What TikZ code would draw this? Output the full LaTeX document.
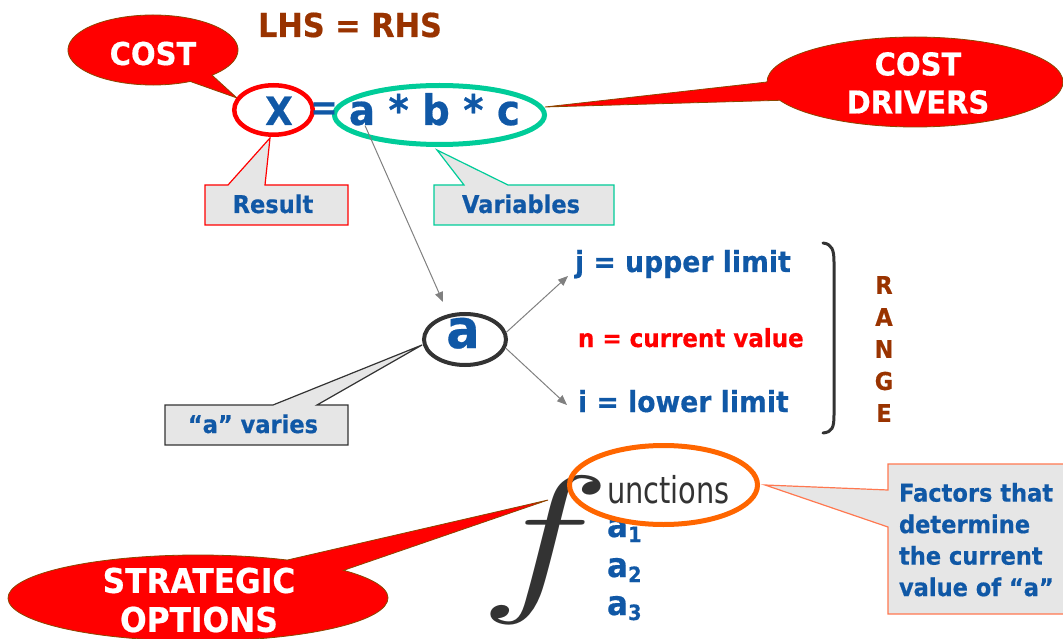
\RequirePackage{fix-cm}
\documentclass[tikz,border=0pt]{standalone}
\usepackage{fontspec}
\usetikzlibrary{shapes.geometric,arrows.meta}
\newfontfamily\tb{DejaVu Sans}[FakeStretch=0.92,FakeBold=0.5]
\newfontfamily\uf{DejaVu Sans}[FakeStretch=0.78]
\newcommand\fsz[2]{\fontsize{#1}{#2}\selectfont}
\definecolor{cBlue}{RGB}{16,88,166}
\definecolor{cBrown}{RGB}{153,51,0}
\definecolor{cRed}{RGB}{255,0,0}
\definecolor{cTeal}{RGB}{0,204,153}
\definecolor{cOrange}{RGB}{255,102,0}
\definecolor{cDGray}{RGB}{51,51,51}
\definecolor{cCoral}{RGB}{255,120,80}
\definecolor{cLGray}{RGB}{230,230,230}
\definecolor{cArrow}{RGB}{128,128,128}
\definecolor{cEdge}{RGB}{140,70,0}
\begin{document}
\begin{tikzpicture}[x=1pt,y=-1pt,
  t/.style={inner sep=0pt,outer sep=0pt},
  bb/.style={t,text=cBlue},
  redcall/.style={fill=cRed,draw=cEdge,line width=0.8pt},
  boxcall/.style={fill=cLGray,line width=1.2pt},
  ring/.style={ellipse,draw,inner sep=0pt,line width=#1},
  garrow/.style={draw=cArrow,line width=1pt,-{Triangle[length=10pt,width=8pt]}},
  brk/.style={draw=cDGray,line width=3pt,line cap=round},
  wtxt/.style={t,text=white,align=center}
]
\useasboundingbox (0,0) rectangle (1063,639);

% red ellipse callouts
\path[redcall] (153,50) ++(64:85 and 35) arc[start angle=64, end angle=406, x radius=85, y radius=35] -- (237,98) -- cycle;
\path[redcall] (915,82) ++(180:148 and 45) arc[start angle=180, end angle=516, x radius=148, y radius=45] -- (545,107) -- cycle;
\path[redcall] (198,598) ++(-40:190 and 43) arc[start angle=-40, end angle=298, x radius=190, y radius=43] -- (548,500) -- cycle;

% rectangular callouts
\path[boxcall,draw=cRed] (205,185) -- (228,185) -- (270,138) -- (265,185) -- (348,185) -- (348,225) -- (205,225) -- cycle;
\path[boxcall,draw=cTeal] (434,185) -- (464,185) -- (437,150) -- (508,185) -- (614,185) -- (614,225) -- (434,225) -- cycle;
\path[boxcall,draw=cDGray] (165,405) -- (273,405) -- (422,345) -- (317,405) -- (348,405) -- (348,445) -- (165,445) -- cycle;
\path[boxcall,draw=cCoral] (888,464) -- (1064,464) -- (1064,614) -- (888,614) -- (888,527) -- (765,485) -- (888,490) -- cycle;

% function f and a_i
\node[t,text=cDGray,font=\fsz{165}{180},anchor=base] (fn) at (545,591) {\scalebox{1.35}[1]{$f$}};
\node[bb,font=\tb\bfseries\fsz{34}{40},anchor=base west] (a1) at (607,537) {a\raisebox{-5pt}{\fsz{21}{24}1}};
\node[bb,font=\tb\bfseries\fsz{34}{40},anchor=base west] (a2) at (607,577) {a\raisebox{-5pt}{\fsz{21}{24}2}};
\node[bb,font=\tb\bfseries\fsz{34}{40},anchor=base west] (a3) at (607,615) {a\raisebox{-5pt}{\fsz{21}{24}3}};
\node[t,text=cDGray,font=\uf\fsz{37}{44},anchor=base west] (unc) at (607,503) {unctions};

% rings
\node[ring=4.5pt,draw=cRed,minimum width=78.5pt,minimum height=49.5pt] (xell) at (273.5,110) {};
\node[ring=5pt,draw=cTeal,minimum width=210pt,minimum height=59pt] (gell) at (439.5,115) {};
\node[ring=4pt,draw=cDGray,minimum width=82pt,minimum height=51pt] (aell) at (465,339.5) {};
\node[ring=5pt,draw=cOrange,minimum width=188pt,minimum height=79pt] (oell) at (663.5,485) {};

% texts
\node[t,text=cBrown,font=\tb\bfseries\fsz{33}{40},anchor=base] (lhs) at (350,37) {LHS = RHS};
\node[wtxt,font=\tb\bfseries\fsz{31.5}{38},anchor=base] (cost) at (153,65) {COST};
\node[wtxt,font=\tb\bfseries\fsz{31.5}{38}] (drivers) at (918,83) {COST\\DRIVERS};
\node[wtxt,font=\tb\bfseries\fsz{34}{39}] (strat) at (199,600) {STRATEGIC\\OPTIONS};

\node[bb,font=\tb\bfseries\fsz{39}{46},anchor=base] (X) at (279,125) {X};
\node[bb,font=\tb\bfseries\fsz{36}{44}] (eq) at (324,111) {=};
\node[bb,font=\tb\bfseries\fsz{42}{48},anchor=base west] (ea) at (349,125) {a};
\node[bb,font=\tb\bfseries\fsz{42}{48},anchor=base west] (ebc) at (ea.base east) {\ * b * c};

\node[bb,font=\tb\bfseries\fsz{24.5}{30},anchor=base] (res) at (273,213) {Result};
\node[bb,font=\tb\bfseries\fsz{24.5}{30},anchor=base] (var) at (521,213) {Variables};
\node[bb,font=\tb\bfseries\fsz{24.5}{30},anchor=base] (vary) at (253,433) {“a” varies};

\node[bb,font=\tb\bfseries\fsz{54}{60},anchor=base] (abig) at (463,348) {a};
\node[bb,font=\tb\bfseries\fsz{29}{34},anchor=base west] (jt) at (575,272) {j = upper limit};
\node[t,text=cRed,font=\tb\bfseries\fsz{25}{30},anchor=base west] (nt) at (578,347) {n = current value};
\node[bb,font=\tb\bfseries\fsz{29}{34},anchor=base west] (it) at (578,412) {i = lower limit};

\node[t,text=cBrown,font=\tb\bfseries\fsz{24.5}{32},align=center] (range) at (884,349) {R\\A\\N\\G\\E};

\node[bb,font=\tb\bfseries\fsz{24.5}{31.5},align=left,anchor=north west] (fac) at (899,483) {Factors that\\determine\\the current\\value of “a”};

% bracket
\draw[brk] (823,243) .. controls (832,244) and (834,250) .. (834,262) -- (834,415) .. controls (834,428) and (832,432) .. (823,433);

% arrows
\coordinate (atop) at (443,302);
\coordinate (jtip) at (568,276);
\coordinate (itip) at (567,405);
\draw[garrow] ([xshift=3pt]ea.south) -- (atop);
\draw[garrow] (aell.10) -- (jtip);
\draw[garrow] (aell.-12) -- (itip);
\end{tikzpicture}
\end{document}
